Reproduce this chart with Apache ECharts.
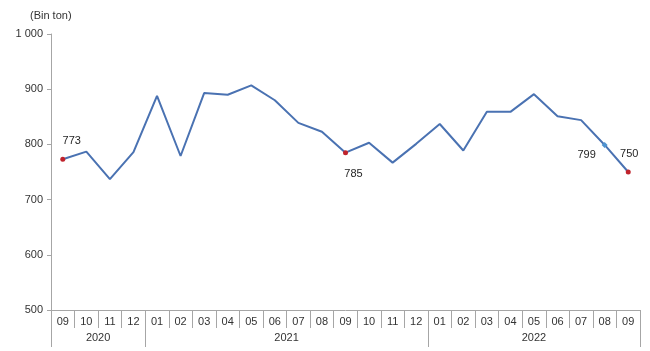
<!DOCTYPE html>
<html lang="tr">
<head>
    <meta charset="UTF-8">
    <title>Bin ton</title>
    <script type="text/javascript" src="https://cdn.jsdelivr.net/npm/echarts@6/dist/echarts.min.js"></script>
    <style>
        html, body { margin: 0; padding: 0; background: #fff; }
    </style>
</head>
<body>
<div id="main" style="width: 650px;height:351px;"></div>
<script>
    // aylar ve yillar
    var months = ['09', '10', '11', '12', '01', '02', '03', '04', '05', '06', '07', '08',
        '09', '10', '11', '12', '01', '02', '03', '04', '05', '06', '07', '08', '09'];
    var monthYears = ['2020', '2020', '2020', '2020', '2021', '2021', '2021', '2021', '2021', '2021', '2021', '2021',
        '2021', '2021', '2021', '2021', '2022', '2022', '2022', '2022', '2022', '2022', '2022', '2022', '2022'];
    var values = [773, 787, 737, 786, 888, 779, 893, 890, 907, 880, 839, 823,
        785, 803, 767, 801, 837, 789, 859, 859, 891, 851, 844, 799, 750];
    var yTicks = [500, 600, 700, 800, 900, 1000];

    var redPoints = [0, 12, 24];
    var bluePoints = [23];
    // etiket kaydirmalari (px)
    var labelOffsets = {0: [9, -18], 12: [8, 21], 23: [-18, 10], 24: [1, -18]};

    var fontFamily = 'Liberation Sans, Arial, sans-serif';
    var axisGray = '#a6a6a6';

    // yil sinirlari ve ortalari
    var yearBreaks = [0];
    var yearNames = [monthYears[0]];
    for (var i = 1; i < monthYears.length; i++) {
        if (monthYears[i] !== monthYears[i - 1]) {
            yearBreaks.push(i);
            yearNames.push(monthYears[i]);
        }
    }
    yearBreaks.push(monthYears.length);
    var yearMids = [];
    for (var j = 0; j < yearNames.length; j++) {
        yearMids.push((yearBreaks[j] + yearBreaks[j + 1]) / 2);
    }

    var seriesData = values.map(function (v, idx) {
        var item = {value: v};
        if (redPoints.indexOf(idx) >= 0) {
            item.symbol = 'circle';
            item.symbolSize = 5;
            item.itemStyle = {color: '#c0232c', borderWidth: 0};
        } else if (bluePoints.indexOf(idx) >= 0) {
            item.symbol = 'diamond';
            item.symbolSize = 6;
            item.itemStyle = {color: '#4f93d0', borderWidth: 0};
        }
        if (labelOffsets[idx]) {
            item.label = {
                show: true,
                position: 'inside',
                offset: labelOffsets[idx],
                formatter: String(v),
                color: '#262626',
                fontSize: 11,
                fontFamily: fontFamily
            };
        }
        return item;
    });

    var myChart = echarts.init(document.getElementById('main'));

    myChart.setOption({
        animation: false,
        title: {
            text: '(Bin ton)',
            left: 25,
            top: 5,
            textStyle: {fontSize: 11, fontWeight: 'normal', color: '#333', fontFamily: fontFamily}
        },
        grid: {
            left: 51,
            right: 10,
            top: 34,
            bottom: 41
        },
        xAxis: [
            {
                type: 'category',
                data: months,
                boundaryGap: true,
                axisLine: {show: true, lineStyle: {color: axisGray, width: 1}},
                axisTick: {show: true, interval: 0, length: 18, lineStyle: {color: axisGray}},
                axisLabel: {interval: 0, margin: 6, fontSize: 11, color: '#333', fontFamily: fontFamily},
                splitLine: {show: false}
            },
            {
                type: 'value',
                position: 'bottom',
                min: 0,
                max: months.length,
                axisLine: {show: false},
                splitLine: {show: false},
                axisTick: {
                    show: true,
                    length: 37,
                    customValues: yearBreaks,
                    lineStyle: {color: axisGray}
                },
                axisLabel: {
                    customValues: yearMids,
                    margin: 22,
                    fontSize: 11,
                    color: '#333',
                    fontFamily: fontFamily,
                    formatter: function (v) {
                        var k = yearMids.indexOf(v);
                        return k >= 0 ? yearNames[k] : '';
                    }
                }
            }
        ],
        yAxis: {
            type: 'value',
            min: yTicks[0],
            max: yTicks[yTicks.length - 1],
            interval: 100,
            splitLine: {show: false},
            axisLine: {show: true, lineStyle: {color: axisGray}},
            axisTick: {show: true, length: 4, lineStyle: {color: axisGray}},
            axisLabel: {
                margin: 8,
                fontSize: 11,
                color: '#333',
                fontFamily: fontFamily,
                formatter: function (v) {
                    return String(v).replace(/\B(?=(\d{3})+(?!\d))/g, ' ');
                }
            }
        },
        series: [
            {
                type: 'line',
                xAxisIndex: 0,
                data: seriesData,
                symbol: 'none',
                showSymbol: true,
                lineStyle: {color: '#4a72b2', width: 2},
                itemStyle: {color: '#4a72b2'}
            }
        ]
    });
</script>
</body>
</html>
